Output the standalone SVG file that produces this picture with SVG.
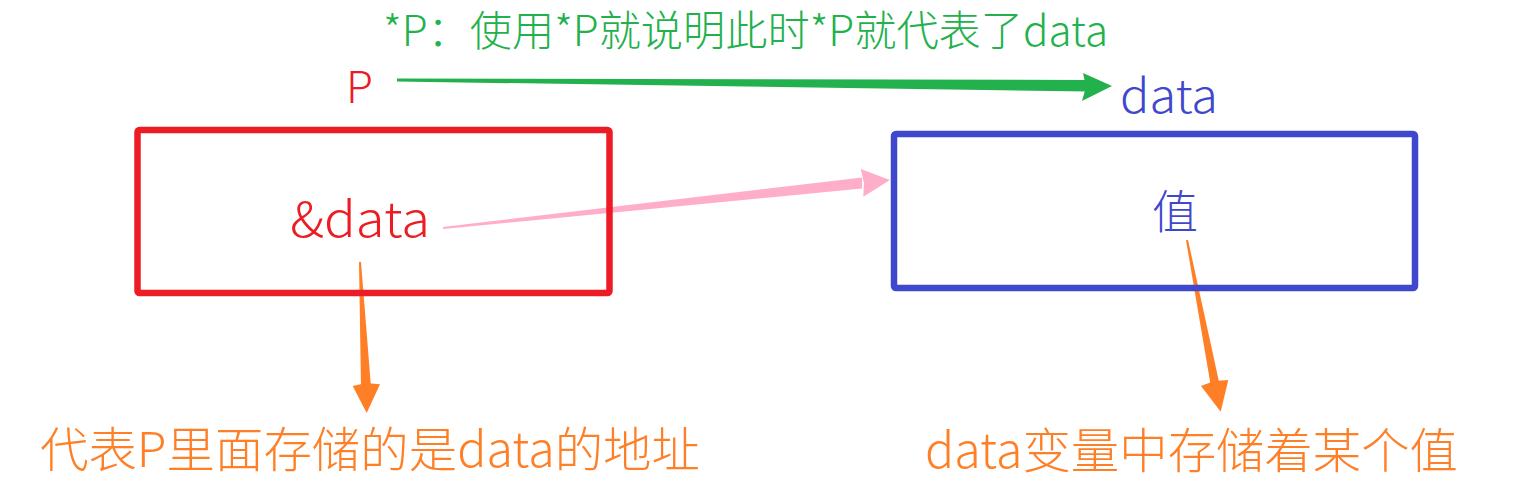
<svg xmlns="http://www.w3.org/2000/svg" width="1518" height="501" viewBox="0 0 1518 501">
<style>
text{font-family:"Noto Sans CJK SC","Noto Sans",sans-serif;font-weight:300;}
.box{fill:none;stroke-width:6.5;stroke-linejoin:round;}
</style>
<rect width="1518" height="501" fill="#ffffff"/>
<g id="connectors">
  <polygon fill="#22b14c" points="397,78.5 1088,80 1088,91.5 397,81.5"/>
  <polygon fill="#22b14c" points="1083,73 1112,86 1082,101 1086,87"/>
  <polygon fill="#ffaec9" points="443.1,229 442.9,227 862,177.5 862,188.5"/>
  <polygon fill="#ffaec9" points="860.7,169 890,180 863.3,196.7 864,183"/>
  <polygon fill="#ff7f27" points="359,262 361,262 371,387 361,387"/>
  <polygon fill="#ff7f27" points="352.7,386 366,383 380,384.3 366.7,413"/>
  <polygon fill="#ff7f27" points="1186,240.2 1188,239.8 1219.5,384 1210.5,384"/>
  <polygon fill="#ff7f27" points="1201,386 1214,381 1228.3,380 1220.7,411.7"/>
</g>
<g id="title">
  <text x="383" y="46" font-size="42" fill="#22b14c" textLength="725" lengthAdjust="spacingAndGlyphs">*P：使用*P就说明此时*P就代表了data</text>
</g>
<g id="label-P">
  <text x="346" y="103" font-size="44" fill="#ed1c24">P</text>
</g>
<g id="label-data">
  <text x="1120" y="113" font-size="46" fill="#3f48cc" textLength="98" lengthAdjust="spacingAndGlyphs">data</text>
</g>
<g id="node-pointer">
  <rect class="box" x="137.5" y="130" width="472" height="163" rx="2" stroke="#ed1c24"/>
  <text x="290" y="237" font-size="48" fill="#ed1c24" textLength="140" lengthAdjust="spacingAndGlyphs">&amp;data</text>
</g>
<g id="node-data">
  <rect class="box" x="894" y="134" width="521" height="154" rx="2" stroke="#3f48cc"/>
  <text x="1152" y="228" font-size="46" fill="#3f48cc">值</text>
</g>
<g id="note-left">
  <text x="40" y="467" font-size="48" fill="#ff7f27" textLength="660" lengthAdjust="spacingAndGlyphs">代表P里面存储的是data的地址</text>
</g>
<g id="note-right">
  <text x="925" y="468" font-size="48" fill="#ff7f27" textLength="533" lengthAdjust="spacingAndGlyphs">data变量中存储着某个值</text>
</g>
</svg>
